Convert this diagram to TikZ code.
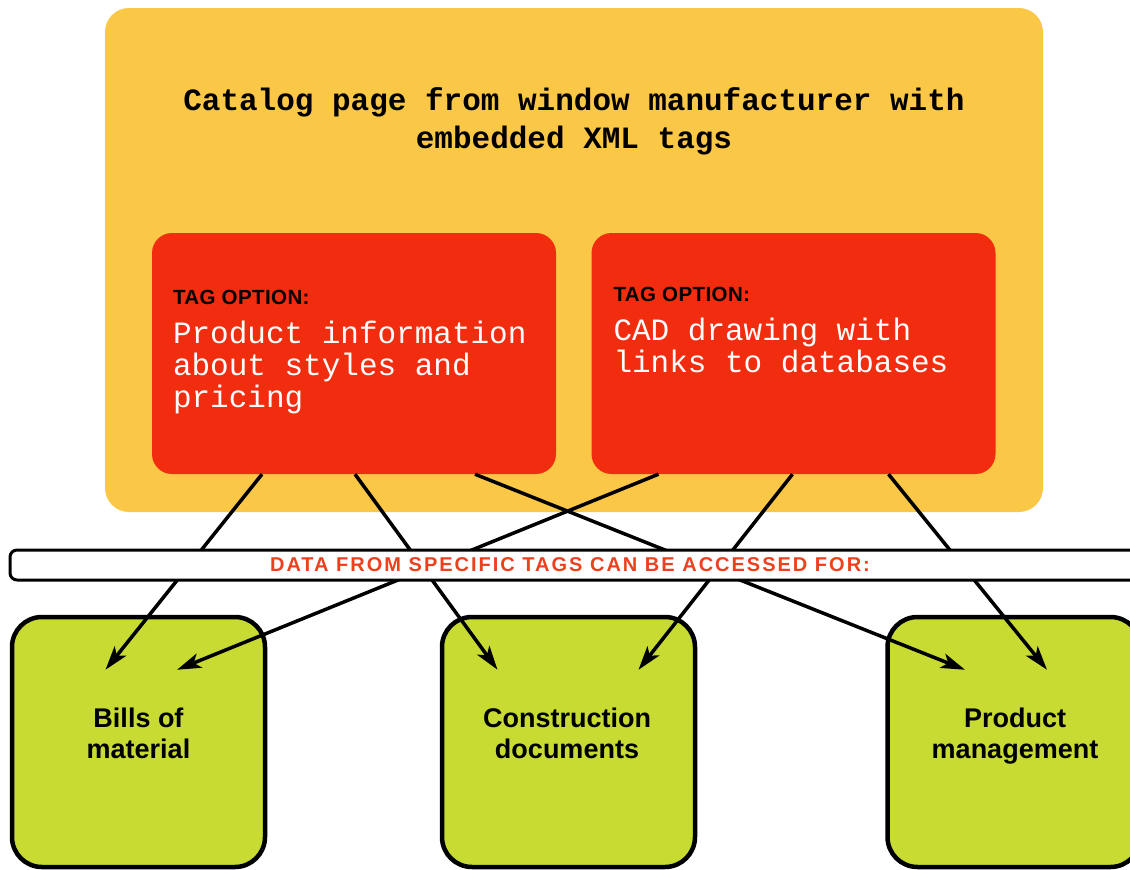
\documentclass[tikz,border=0pt]{standalone}
\usepackage{fontspec}
\setmainfont{Liberation Sans}
\newfontfamily\typefont{Liberation Mono}
\newfontfamily\bandfont[LetterSpace=10]{Liberation Sans}
\newfontfamily\tagfont[LetterSpace=2]{Liberation Sans}
\usetikzlibrary{arrows.meta,positioning,calc}
\definecolor{page_color}{RGB}{250,199,70}
\definecolor{tag_color}{RGB}{242,44,14}
\definecolor{use_color}{RGB}{199,219,50}
\definecolor{band_text_color}{RGB}{236,64,30}
\newcommand{\tagopt}{{\tagfont\bfseries\fontsize{20.5}{20}\selectfont\color{black}TAG OPTION:}}
\tikzset{
  page/.style={
    fill=page_color, rounded corners=24pt,
    minimum width=938pt, minimum height=504pt, inner sep=0pt
  },
  caption/.style={
    align=center, inner sep=0pt,
    font=\typefont\bfseries\fontsize{31}{38}\selectfont
  },
  tag/.style={
    fill=tag_color, rounded corners=20pt,
    minimum width=404pt, minimum height=241pt, inner sep=0pt
  },
  tagtext/.style={
    anchor=north west, align=left, inner sep=0pt, text=white,
    font=\typefont\fontsize{31}{32}\selectfont
  },
  band/.style={
    draw=black, line width=3pt, fill=white, rounded corners=7pt,
    minimum width=1160pt, minimum height=30pt, inner sep=0pt
  },
  bandtext/.style={
    inner sep=0pt, text=band_text_color,
    font=\bandfont\bfseries\fontsize{20}{20}\selectfont
  },
  use/.style={
    draw=black, line width=4.5pt, fill=use_color, rounded corners=30pt,
    minimum width=253pt, minimum height=250pt, inner sep=0pt
  },
  usetext/.style={
    anchor=north, align=center, inner sep=0pt,
    font=\bfseries\fontsize{27}{31}\selectfont
  },
  datalink/.style={line width=3.5pt, -{Stealth[length=24pt, width=15pt, inset=6pt]}}
}

\begin{document}
\begin{tikzpicture}[x=1pt, y=-1pt]
\useasboundingbox (0,0) rectangle (1130,870);

\node[page] (page) at (574,260) {};
\node[caption] (title) at (574,121) {Catalog page from window manufacturer with\\embedded XML tags};

\node[tag] (tagA) at (354,353.5) {};
\node[tag] (tagB) at (793.5,353.5) {};
\node[tagtext] (tagAtext) at ($(tagA.north west)+(21,57)$) {\tagopt\\[7pt]Product information\\about styles and\\pricing};
\node[tagtext] (tagBtext) at ($(tagB.north west)+(22,54)$) {\tagopt\\[7pt]CAD drawing with\\links to databases};

\node[use] (bills) at (138.5,742) {};
\node[use] (construct) at (568.5,742) {};
\node[use] (product) at (1014,742) {};
\node[usetext] (billsText) at (138.5,708) {Bills of\\material};
\node[usetext] (constructText) at (567,708) {Construction\\documents};
\node[usetext] (productText) at (1015,708) {Product\\management};

\draw[datalink] ($(tagA.south)+(-92,0)$) -- ($(bills.north)+(-33,55)$);
\draw[datalink] ($(tagA.south)+(1,0)$) -- ($(construct.north)+(-71,55)$);
\draw[datalink] ($(tagA.south)+(121,0)$) -- ($(product.north)+(-49,55)$);
\draw[datalink] ($(tagB.south)+(-135,0)$) -- ($(bills.north)+(38.5,55)$);
\draw[datalink] ($(tagB.south)+(-1,0)$) -- ($(construct.north)+(70,55)$);
\draw[datalink] ($(tagB.south)+(95,0)$) -- ($(product.north)+(33,55)$);

\node[band] (band) at (590,565) {};
\node[bandtext] (bandText) at (570,565) {DATA FROM SPECIFIC TAGS CAN BE ACCESSED FOR:};

\end{tikzpicture}
\end{document}
